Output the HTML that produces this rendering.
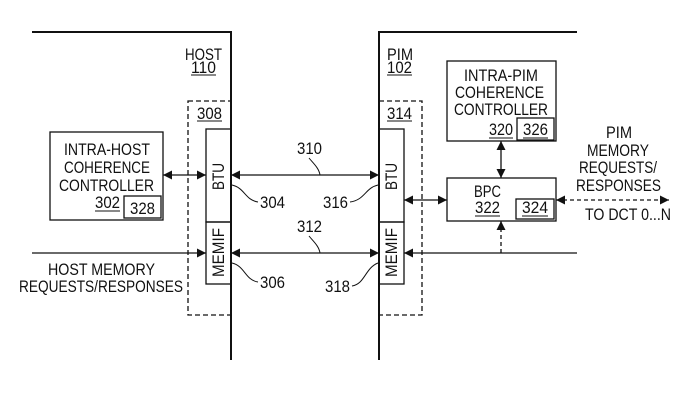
<!DOCTYPE html>
<html><head><meta charset="utf-8"><style>
html,body{margin:0;padding:0;background:#fff;}
svg{display:block;}
text{font-family:"Liberation Sans",sans-serif;font-size:16.5px;fill:#111;}
</style></head><body>
<svg width="688" height="410" viewBox="0 0 688 410" xmlns="http://www.w3.org/2000/svg">
<defs>
<marker id="a" viewBox="0 0 10 10" refX="10" refY="5" markerWidth="9" markerHeight="9" orient="auto-start-reverse" markerUnits="userSpaceOnUse"><path d="M0,0 L10,5 L0,10 z" fill="#111"/></marker>
</defs>
<g stroke="#111" fill="none" stroke-width="1.3">
<path d="M32,32 H231 V360" stroke-width="2"/>
<path d="M379,360 V32 H577" stroke-width="2"/>
<rect x="188" y="101" width="43" height="214" stroke-dasharray="5,3"/>
<rect x="379" y="101" width="43" height="214" stroke-dasharray="5,3"/>
<rect x="206" y="129" width="25" height="93"/>
<rect x="206" y="222" width="25" height="62"/>
<rect x="379" y="129" width="25" height="93"/>
<rect x="379" y="222" width="25" height="62"/>
<rect x="50" y="132" width="113" height="88"/>
<rect x="124" y="196" width="37" height="22"/>
<rect x="447" y="61" width="109" height="80"/>
<rect x="517" y="118" width="37" height="22"/>
<rect x="447" y="178" width="109" height="43"/>
<rect x="516" y="199" width="38" height="20"/>
<line x1="163" y1="175" x2="206" y2="175" marker-start="url(#a)" marker-end="url(#a)"/>
<line x1="231" y1="175" x2="379" y2="175" marker-start="url(#a)" marker-end="url(#a)"/>
<line x1="32" y1="253" x2="206" y2="253" marker-end="url(#a)"/>
<line x1="231" y1="253" x2="379" y2="253" marker-start="url(#a)" marker-end="url(#a)"/>
<line x1="577" y1="253" x2="404" y2="253" marker-end="url(#a)"/>
<line x1="404" y1="200" x2="447" y2="200" marker-start="url(#a)" marker-end="url(#a)"/>
<line x1="501" y1="141" x2="501" y2="178" marker-start="url(#a)" marker-end="url(#a)"/>
<line x1="501" y1="253" x2="501" y2="221" stroke-dasharray="4,3" marker-end="url(#a)"/>
<line x1="556" y1="200" x2="669" y2="200" stroke-dasharray="4,3" marker-start="url(#a)" marker-end="url(#a)"/>
<path d="M232,185 C245,188 245,200 258,202" stroke-width="1"/>
<path d="M232,263 C245,266 245,280 258,282" stroke-width="1"/>
<path d="M378,185 C365,188 365,200 350,202" stroke-width="1"/>
<path d="M378,263 C365,268 365,284 352,286" stroke-width="1"/>
<path d="M309,158 C313,163 319,168 320,175" stroke-width="1"/>
<path d="M309,236 C313,241 319,246 320,253" stroke-width="1"/>
<path d="M191,75 H216 M197,121 H222 M95,211 H120 M387,75 H412 M387,121 H412 M489,138 H513 M523,138 H548 M475,216 H500 M522,216 H548" stroke-width="1"/>
</g>
<text x="185" y="60" textLength="37" lengthAdjust="spacingAndGlyphs">HOST</text>
<text x="191" y="73" textLength="25" lengthAdjust="spacingAndGlyphs">110</text>
<text x="197" y="119" textLength="25" lengthAdjust="spacingAndGlyphs">308</text>
<text x="387" y="60" textLength="26" lengthAdjust="spacingAndGlyphs">PIM</text>
<text x="387" y="73" textLength="25" lengthAdjust="spacingAndGlyphs">102</text>
<text x="387" y="119" textLength="25" lengthAdjust="spacingAndGlyphs">314</text>
<text x="64" y="155" textLength="86" lengthAdjust="spacingAndGlyphs">INTRA-HOST</text>
<text x="64" y="173" textLength="86" lengthAdjust="spacingAndGlyphs">COHERENCE</text>
<text x="59" y="191" textLength="95" lengthAdjust="spacingAndGlyphs">CONTROLLER</text>
<text x="464" y="81" textLength="74" lengthAdjust="spacingAndGlyphs">INTRA-PIM</text>
<text x="455" y="98" textLength="89" lengthAdjust="spacingAndGlyphs">COHERENCE</text>
<text x="454" y="115" textLength="94" lengthAdjust="spacingAndGlyphs">CONTROLLER</text>
<text x="48" y="275" textLength="107" lengthAdjust="spacingAndGlyphs">HOST MEMORY</text>
<text x="19" y="292" textLength="164" lengthAdjust="spacingAndGlyphs">REQUESTS/RESPONSES</text>
<text x="606" y="138" textLength="26" lengthAdjust="spacingAndGlyphs">PIM</text>
<text x="587" y="156" textLength="62" lengthAdjust="spacingAndGlyphs">MEMORY</text>
<text x="579" y="173" textLength="78" lengthAdjust="spacingAndGlyphs">REQUESTS/</text>
<text x="576" y="191" textLength="85" lengthAdjust="spacingAndGlyphs">RESPONSES</text>
<text x="585" y="220" textLength="86" lengthAdjust="spacingAndGlyphs">TO DCT 0...N</text>
<text x="474" y="197" textLength="27" lengthAdjust="spacingAndGlyphs">BPC</text>
<text x="95" y="208" textLength="25" lengthAdjust="spacingAndGlyphs">302</text>
<text x="130" y="214" textLength="25" lengthAdjust="spacingAndGlyphs">328</text>
<text x="489" y="135" textLength="24" lengthAdjust="spacingAndGlyphs">320</text>
<text x="523" y="135" textLength="25" lengthAdjust="spacingAndGlyphs">326</text>
<text x="475" y="213" textLength="25" lengthAdjust="spacingAndGlyphs">322</text>
<text x="522" y="213" textLength="26" lengthAdjust="spacingAndGlyphs">324</text>
<text x="297" y="154" textLength="25" lengthAdjust="spacingAndGlyphs">310</text>
<text x="297" y="232" textLength="25" lengthAdjust="spacingAndGlyphs">312</text>
<text x="260" y="208" textLength="25" lengthAdjust="spacingAndGlyphs">304</text>
<text x="260" y="288" textLength="25" lengthAdjust="spacingAndGlyphs">306</text>
<text x="323" y="208" textLength="25" lengthAdjust="spacingAndGlyphs">316</text>
<text x="325" y="292" textLength="25" lengthAdjust="spacingAndGlyphs">318</text>
<text transform="translate(224,190) rotate(-90)" textLength="27" lengthAdjust="spacingAndGlyphs">BTU</text>
<text transform="translate(224,277) rotate(-90)" textLength="49" lengthAdjust="spacingAndGlyphs">MEMIF</text>
<text transform="translate(397,190) rotate(-90)" textLength="27" lengthAdjust="spacingAndGlyphs">BTU</text>
<text transform="translate(397,277) rotate(-90)" textLength="49" lengthAdjust="spacingAndGlyphs">MEMIF</text>
</svg>
</body></html>
